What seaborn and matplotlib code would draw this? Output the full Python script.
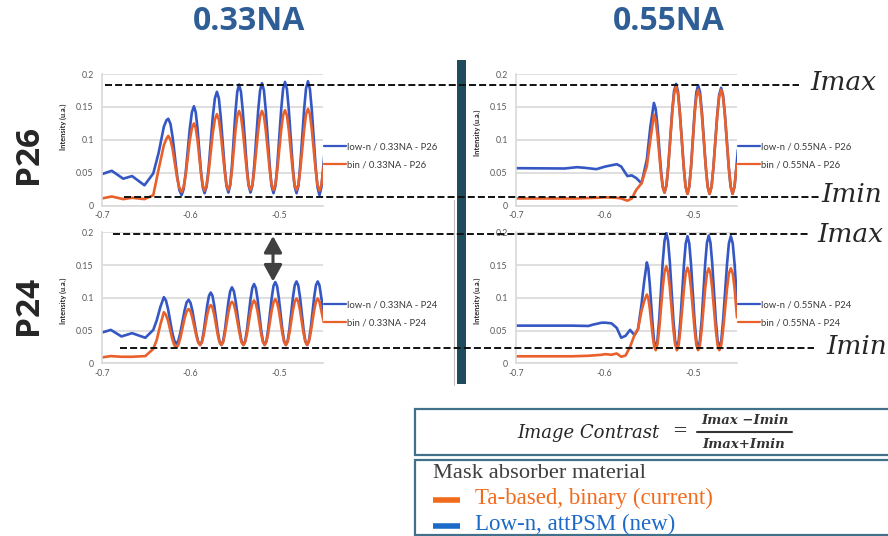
import matplotlib
matplotlib.use("Agg")
import matplotlib.pyplot as plt
import seaborn as sns
import pandas as pd
from matplotlib.lines import Line2D
from matplotlib.patches import Rectangle, FancyArrowPatch

# ---------------- data ----------------
col_titles = ["0.33NA", "0.55NA"]
row_labels = ["P26", "P24"]
x_ticks = [-0.7, -0.6, -0.5]
y_ticks = [0, 0.05, 0.1, 0.15, 0.2]

# P26 / 0.33NA
x_p26_033 = [-0.700, -0.689, -0.676, -0.666, -0.652, -0.642, -0.636, -0.630, -0.627,
             -0.625,
             -0.6225, -0.620, -0.615, -0.6125, -0.610,
             -0.6077, -0.6053, -0.6007, -0.5983, -0.596,
             -0.594, -0.592, -0.588, -0.586, -0.584,
             -0.5817, -0.5793, -0.5747, -0.5723, -0.570,
             -0.5678, -0.5657, -0.5613, -0.5592, -0.557,
             -0.555, -0.553, -0.549, -0.547, -0.545,
             -0.5428, -0.5407, -0.5363, -0.5342, -0.532,
             -0.5298, -0.5277, -0.5233, -0.5212, -0.519,
             -0.5168, -0.5147, -0.5103, -0.5082, -0.506,
             -0.5038, -0.5017, -0.4973, -0.4952, -0.493,
             -0.4908, -0.4887, -0.4843, -0.4822, -0.480,
             -0.4778, -0.4757, -0.4713, -0.4692, -0.467,
             -0.4648, -0.4627, -0.4583, -0.4562, -0.454,
             -0.4518, -0.4497, -0.448]
lown_p26_033 = [0.048, 0.053, 0.041, 0.045, 0.031, 0.049, 0.080, 0.120, 0.130,
                0.132,
                0.124, 0.103, 0.045, 0.024, 0.016,
                0.025, 0.050, 0.117, 0.142, 0.151,
                0.142, 0.118, 0.052, 0.028, 0.019,
                0.029, 0.058, 0.135, 0.163, 0.173,
                0.163, 0.135, 0.058, 0.030, 0.020,
                0.031, 0.061, 0.143, 0.173, 0.184,
                0.173, 0.143, 0.061, 0.031, 0.020,
                0.031, 0.062, 0.145, 0.175, 0.186,
                0.175, 0.144, 0.061, 0.030, 0.019,
                0.030, 0.061, 0.146, 0.177, 0.188,
                0.177, 0.146, 0.061, 0.030, 0.019,
                0.030, 0.062, 0.147, 0.178, 0.189,
                0.177, 0.146, 0.059, 0.028, 0.016,
                0.028, 0.059, 0.085]
bin_p26_033 = [0.011, 0.014, 0.010, 0.012, 0.010, 0.016, 0.055, 0.092, 0.102,
               0.106,
               0.100, 0.085, 0.042, 0.027, 0.021,
               0.028, 0.047, 0.099, 0.118, 0.125,
               0.118, 0.100, 0.049, 0.030, 0.023,
               0.031, 0.052, 0.110, 0.131, 0.139,
               0.131, 0.110, 0.053, 0.032, 0.024,
               0.032, 0.054, 0.114, 0.136, 0.144,
               0.136, 0.114, 0.054, 0.032, 0.024,
               0.032, 0.054, 0.114, 0.136, 0.144,
               0.136, 0.114, 0.054, 0.032, 0.024,
               0.032, 0.054, 0.115, 0.137, 0.145,
               0.137, 0.115, 0.054, 0.032, 0.024,
               0.032, 0.055, 0.116, 0.139, 0.147,
               0.139, 0.116, 0.054, 0.031, 0.023,
               0.031, 0.054, 0.070]

# P26 / 0.55NA
x_p26_055 = [-0.700, -0.645, -0.631, -0.622, -0.609, -0.599, -0.586, -0.581, -0.574, -0.569, -0.564, -0.558, -0.552, -0.548,
             -0.544,
             -0.542, -0.540, -0.536, -0.534, -0.532,
             -0.5298, -0.5277, -0.5233, -0.5212, -0.519,
             -0.5168, -0.5147, -0.5103, -0.5082, -0.506,
             -0.504, -0.502, -0.498, -0.496, -0.494,
             -0.4918, -0.4897, -0.4853, -0.4832, -0.481,
             -0.4788, -0.4767, -0.4723, -0.4702, -0.468,
             -0.4658, -0.4637, -0.4593, -0.4572, -0.455,
             -0.4528, -0.4507, -0.449]
lown_p26_055 = [0.057, 0.0565, 0.0585, 0.0575, 0.0555, 0.0595, 0.063, 0.0595, 0.045, 0.046, 0.042, 0.034, 0.070, 0.120,
                0.156,
                0.147, 0.122, 0.054, 0.029, 0.020,
                0.031, 0.061, 0.144, 0.174, 0.185,
                0.174, 0.143, 0.060, 0.029, 0.018,
                0.029, 0.059, 0.142, 0.172, 0.183,
                0.172, 0.142, 0.059, 0.029, 0.018,
                0.029, 0.058, 0.139, 0.168, 0.179,
                0.168, 0.139, 0.058, 0.029, 0.018,
                0.029, 0.058, 0.085]
bin_p26_055 = [0.011, 0.011, 0.011, 0.0115, 0.012, 0.0127, 0.012, 0.011, 0.0076, 0.011, 0.024, 0.034, 0.060, 0.100,
               0.138,
               0.130, 0.108, 0.049, 0.028, 0.020,
               0.031, 0.060, 0.141, 0.170, 0.181,
               0.170, 0.140, 0.059, 0.029, 0.018,
               0.029, 0.058, 0.137, 0.165, 0.176,
               0.165, 0.137, 0.058, 0.029, 0.018,
               0.029, 0.058, 0.137, 0.165, 0.176,
               0.165, 0.137, 0.058, 0.029, 0.018,
               0.029, 0.058, 0.065]

# P24 / 0.33NA
x_p24_033 = [-0.700, -0.690, -0.678, -0.666, -0.651, -0.642, -0.638, -0.634,
             -0.630,
             -0.6277, -0.6253, -0.6207, -0.6183, -0.616,
             -0.6137, -0.6113, -0.6067, -0.6043, -0.602,
             -0.5998, -0.5977, -0.5933, -0.5912, -0.589,
             -0.587, -0.585, -0.581, -0.579, -0.577,
             -0.575, -0.573, -0.569, -0.567, -0.565,
             -0.563, -0.561, -0.557, -0.555, -0.553,
             -0.5508, -0.5487, -0.5443, -0.5422, -0.540,
             -0.538, -0.536, -0.532, -0.530, -0.528,
             -0.526, -0.524, -0.520, -0.518, -0.516,
             -0.514, -0.512, -0.508, -0.506, -0.504,
             -0.502, -0.500, -0.496, -0.494, -0.492,
             -0.490, -0.488, -0.484, -0.482, -0.480,
             -0.478, -0.476, -0.472, -0.470, -0.468,
             -0.466, -0.464, -0.460, -0.458, -0.456,
             -0.454, -0.452, -0.449]
lown_p24_033 = [0.047, 0.051, 0.041, 0.046, 0.039, 0.051, 0.066, 0.086,
                0.101,
                0.096, 0.083, 0.048, 0.035, 0.030,
                0.034, 0.047, 0.080, 0.093, 0.097,
                0.092, 0.080, 0.045, 0.033, 0.028,
                0.033, 0.048, 0.088, 0.103, 0.108,
                0.103, 0.088, 0.048, 0.033, 0.028,
                0.034, 0.050, 0.094, 0.110, 0.116,
                0.110, 0.094, 0.050, 0.034, 0.028,
                0.034, 0.051, 0.098, 0.115, 0.121,
                0.115, 0.098, 0.051, 0.034, 0.028,
                0.034, 0.052, 0.100, 0.118, 0.124,
                0.118, 0.100, 0.052, 0.034, 0.028,
                0.034, 0.052, 0.101, 0.119, 0.125,
                0.119, 0.101, 0.052, 0.034, 0.028,
                0.034, 0.052, 0.101, 0.119, 0.125,
                0.119, 0.101, 0.075]
bin_p24_033 = [0.009, 0.011, 0.010, 0.010, 0.011, 0.022, 0.036, 0.059,
               0.078,
               0.074, 0.065, 0.038, 0.028, 0.024,
               0.028, 0.039, 0.068, 0.079, 0.083,
               0.079, 0.069, 0.042, 0.032, 0.028,
               0.032, 0.043, 0.074, 0.085, 0.089,
               0.085, 0.074, 0.043, 0.032, 0.028,
               0.032, 0.045, 0.078, 0.090, 0.094,
               0.090, 0.078, 0.045, 0.032, 0.028,
               0.033, 0.045, 0.079, 0.091, 0.096,
               0.091, 0.079, 0.045, 0.033, 0.028,
               0.033, 0.046, 0.081, 0.093, 0.098,
               0.093, 0.081, 0.046, 0.033, 0.028,
               0.033, 0.046, 0.081, 0.094, 0.099,
               0.094, 0.081, 0.046, 0.033, 0.028,
               0.033, 0.046, 0.081, 0.094, 0.099,
               0.094, 0.081, 0.062]

# P24 / 0.55NA
x_p24_055 = [-0.700, -0.656, -0.637, -0.618, -0.613, -0.603, -0.599, -0.592, -0.586, -0.581, -0.576, -0.571, -0.566, -0.562, -0.558, -0.555,
             -0.552,
             -0.5503, -0.5487, -0.5453, -0.5437, -0.542,
             -0.540, -0.538, -0.534, -0.532, -0.530,
             -0.528, -0.526, -0.522, -0.520, -0.518,
             -0.516, -0.514, -0.510, -0.508, -0.506,
             -0.504, -0.502, -0.498, -0.496, -0.494,
             -0.492, -0.490, -0.486, -0.484, -0.482,
             -0.480, -0.478, -0.474, -0.472, -0.470,
             -0.4678, -0.4657, -0.4613, -0.4592, -0.457,
             -0.4548, -0.4527, -0.450]
lown_p24_055 = [0.0575, 0.0575, 0.0575, 0.057, 0.059, 0.062, 0.062, 0.061, 0.054, 0.039, 0.042, 0.051, 0.043, 0.052, 0.090, 0.125,
                0.154,
                0.145, 0.121, 0.056, 0.032, 0.023,
                0.035, 0.067, 0.155, 0.187, 0.199,
                0.187, 0.155, 0.067, 0.035, 0.023,
                0.034, 0.066, 0.151, 0.183, 0.194,
                0.183, 0.151, 0.065, 0.034, 0.022,
                0.034, 0.065, 0.152, 0.184, 0.195,
                0.184, 0.152, 0.066, 0.035, 0.023,
                0.034, 0.066, 0.151, 0.183, 0.194,
                0.183, 0.151, 0.095]
bin_p24_055 = [0.0107, 0.0107, 0.0107, 0.0115, 0.012, 0.013, 0.014, 0.013, 0.015, 0.010, 0.012, 0.025, 0.043, 0.052, 0.080, 0.095,
               0.105,
               0.099, 0.084, 0.041, 0.026, 0.020,
               0.029, 0.052, 0.116, 0.139, 0.148,
               0.139, 0.116, 0.052, 0.029, 0.020,
               0.028, 0.052, 0.114, 0.138, 0.146,
               0.138, 0.114, 0.052, 0.028, 0.020,
               0.028, 0.051, 0.114, 0.137, 0.145,
               0.137, 0.114, 0.051, 0.028, 0.020,
               0.028, 0.051, 0.114, 0.137, 0.145,
               0.137, 0.114, 0.070]

# ---------------- styling ----------------
W, H = 888, 536
BLUE = "#3457C4"
ORANGE = "#E9602B"
GRID = "#D9D9D9"
TXT = "#595959"

sns.set_theme(style="white")
plt.rcParams["font.family"] = ["Lato", "DejaVu Sans"]

fig = plt.figure(figsize=(W / 100, H / 100), dpi=100)
fig.patch.set_facecolor("white")


def fx(x):
    return x / W


def fy(y):
    return 1 - y / H


panels = [
    dict(box=(102, 74, 323, 205.7), x=x_p26_033, lown=lown_p26_033, bin=bin_p26_033,
         na="0.33NA", p="P26", ylab_y=0.60),
    dict(box=(516, 74, 737, 205.7), x=x_p26_055, lown=lown_p26_055, bin=bin_p26_055,
         na="0.55NA", p="P26", ylab_y=0.55),
    dict(box=(102, 232.3, 323, 363.3), x=x_p24_033, lown=lown_p24_033, bin=bin_p24_033,
         na="0.33NA", p="P24", ylab_y=0.48),
    dict(box=(516, 232.3, 737, 363.3), x=x_p24_055, lown=lown_p24_055, bin=bin_p24_055,
         na="0.55NA", p="P24", ylab_y=0.48),
]

for pn in panels:
    l, t, r, b = pn["box"]
    ax = fig.add_axes([fx(l), fy(b), (r - l) / W, (b - t) / H])
    lab_low = f"low-n / {pn['na']} - {pn['p']}"
    lab_bin = f"bin / {pn['na']} - {pn['p']}"
    n = len(pn["x"])
    assert len(pn["lown"]) == n and len(pn["bin"]) == n, (pn["na"], pn["p"], n, len(pn["lown"]), len(pn["bin"]))
    df = pd.DataFrame({
        "x": list(pn["x"]) * 2,
        "I": list(pn["lown"]) + list(pn["bin"]),
        "series": [lab_low] * n + [lab_bin] * n,
    })
    sns.lineplot(data=df, x="x", y="I", hue="series", hue_order=[lab_low, lab_bin],
                 palette=[BLUE, ORANGE], linewidth=1.9, ax=ax, sort=False,
                 estimator=None, legend=True)
    for ln in ax.get_lines():
        ln.set_solid_joinstyle("round")
    ax.set_xlim(-0.7, -0.45)
    ax.set_ylim(0, 0.2)
    ax.set_xticks(x_ticks)
    ax.set_xticklabels(["-0.7", "-0.6", "-0.5"])
    ax.set_yticks(y_ticks)
    ax.set_yticklabels(["0", "0.05", "0.1", "0.15", "0.2"])
    ax.tick_params(axis="both", length=0, labelsize=6.3, colors=TXT)
    ax.tick_params(axis="y", pad=6)
    ax.tick_params(axis="x", pad=4)
    ax.grid(axis="y", color=GRID, linewidth=1.2)
    ax.set_axisbelow(True)
    for s in ["top", "right"]:
        ax.spines[s].set_visible(False)
    for s in ["left", "bottom"]:
        ax.spines[s].set_color(GRID)
        ax.spines[s].set_linewidth(1.2)
    ax.set_xlabel("")
    ax.set_ylabel("Intensity (u.a.)", fontsize=5.3, fontweight="bold", color="#262626")
    ax.yaxis.set_label_coords(-0.158, pn["ylab_y"])
    ax.set_facecolor("none")
    handles, labels = ax.get_legend_handles_labels()
    leg = ax.legend(handles, labels, loc="center left", bbox_to_anchor=(1.005, 0.377),
                    frameon=False, fontsize=6.8, handlelength=2.3, handletextpad=0.15,
                    labelspacing=0.9, borderpad=0, borderaxespad=0)
    for txt in leg.get_texts():
        txt.set_color("#3A3A3A")
    for h in leg.get_lines():
        h.set_linewidth(1.6)

# ---------------- annotations ----------------
fig.text(fx(249), fy(21), col_titles[0], fontsize=23, fontweight="bold", color="#2E5E95",
         ha="center", va="center", family=["Open Sans", "DejaVu Sans"])
fig.text(fx(669), fy(21), col_titles[1], fontsize=23, fontweight="bold", color="#2E5E95",
         ha="center", va="center", family=["Open Sans", "DejaVu Sans"])
fig.text(fx(28), fy(155), row_labels[0], fontsize=24, fontweight="bold", color="#262626",
         ha="center", va="center", rotation=90, family=["Open Sans", "DejaVu Sans"])
fig.text(fx(28), fy(305), row_labels[1], fontsize=24, fontweight="bold", color="#262626",
         ha="center", va="center", rotation=90, family=["Open Sans", "DejaVu Sans"])

# vertical separator
fig.add_artist(Line2D([fx(454), fx(454)], [fy(200), fy(385)], color="#BFBFBF", lw=0.8))
fig.add_artist(Rectangle((fx(456.5), fy(384)), 9 / W, (384 - 60) / H, transform=fig.transFigure,
                         facecolor="#1F4C5C", edgecolor="none"))

# dashed Imax / Imin reference lines
dash_kw = dict(color="#111111", lw=1.4, linestyle=(0, (3.6, 1.6)))
for (x0, x1, y) in [(105, 799, 84.7), (124, 820, 197), (113, 808, 234), (120, 814, 348)]:
    fig.add_artist(Line2D([fx(x0), fx(x1)], [fy(y), fy(y)], **dash_kw))

serif_it = dict(family=["DejaVu Serif"], style="italic", color="#262626")
fig.text(fx(810), fy(83), "Imax", fontsize=19, ha="left", va="center", **serif_it)
fig.text(fx(821), fy(194), "Imin", fontsize=19, ha="left", va="center", **serif_it)
fig.text(fx(817), fy(235), "Imax", fontsize=19, ha="left", va="center", **serif_it)
fig.text(fx(826), fy(347), "Imin", fontsize=19, ha="left", va="center", **serif_it)

# double arrow
fig.add_artist(FancyArrowPatch((fx(273), fy(236)), (fx(273), fy(281.5)), transform=fig.transFigure,
                               arrowstyle="<|-|>,head_length=10,head_width=5.5",
                               mutation_scale=1, color="#404040", lw=2.2, shrinkA=0, shrinkB=0))

# formula box
box_col = "#41708A"
fig.add_artist(Rectangle((fx(415), fy(455)), (890 - 415) / W, (455 - 409) / H,
                         transform=fig.transFigure, facecolor="white", edgecolor=box_col, lw=1.6))
fig.text(fx(517), fy(433), "Image Contrast", fontsize=13, ha="left", va="center", **serif_it)
fig.text(fx(680), fy(431), "=", fontsize=13, ha="center", va="center", family=["DejaVu Serif"],
         color="#262626")
fig.text(fx(745), fy(421), "Imax \u2212Imin", fontsize=9.5, ha="center", va="center",
         family=["DejaVu Serif"], style="italic", fontweight="bold", color="#333333")
fig.text(fx(744), fy(444), "Imax+Imin", fontsize=9.5, ha="center", va="center",
         family=["DejaVu Serif"], style="italic", fontweight="bold", color="#333333")
fig.add_artist(Line2D([fx(697), fx(792)], [fy(432), fy(432)], color="#333333", lw=1.5))

# legend box
fig.add_artist(Rectangle((fx(415), fy(535)), (890 - 415) / W, (535 - 460) / H,
                         transform=fig.transFigure, facecolor="white", edgecolor=box_col, lw=1.6))
fig.text(fx(433), fy(473), "Mask absorber material", fontsize=16.2, ha="left", va="center",
         family=["Liberation Serif"], color="#404040")
fig.add_artist(Line2D([fx(433), fx(460)], [fy(499.5), fy(499.5)], color="#F26B1D", lw=4,
                      solid_capstyle="butt"))
fig.text(fx(475), fy(498), "Ta-based, binary (current)", fontsize=16.5, ha="left", va="center",
         family=["Liberation Serif"], color="#F26B1D")
fig.add_artist(Line2D([fx(433), fx(460)], [fy(526), fy(526)], color="#1B6AC9", lw=4,
                      solid_capstyle="butt"))
fig.text(fx(475), fy(524), "Low-n, attPSM (new)", fontsize=16.5, ha="left", va="center",
         family=["Liberation Serif"], color="#1B6AC9")

fig.savefig("out.png", dpi=100, facecolor="white")
